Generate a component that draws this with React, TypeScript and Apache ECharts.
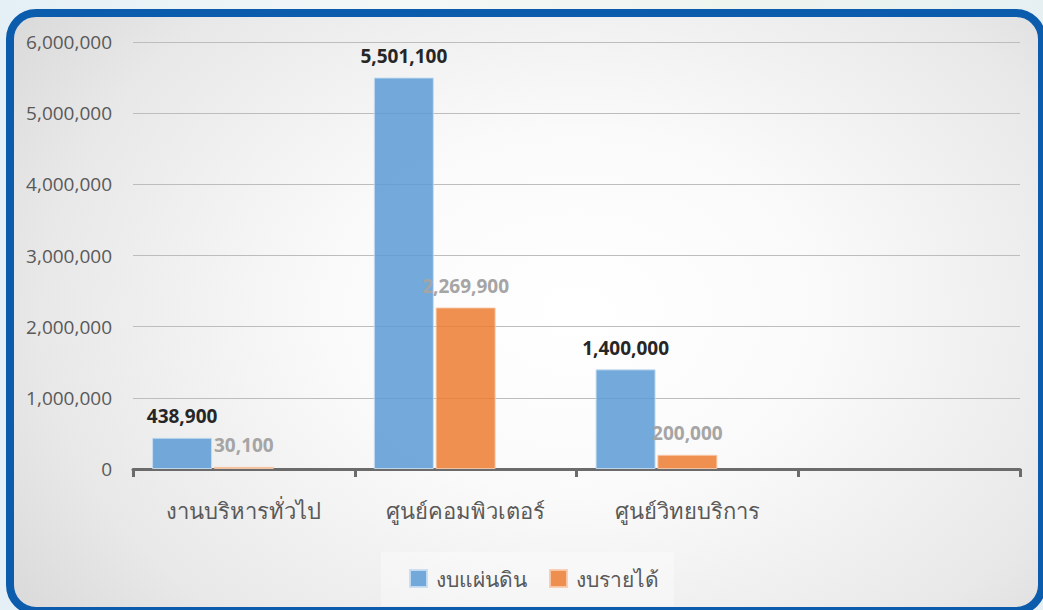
import React, { useEffect, useRef } from "react";
import * as echarts from "echarts";

const categories = ["งานบริหารทั่วไป", "ศูนย์คอมพิวเตอร์", "ศูนย์วิทยบริการ", ""];
const seriesNames = ["งบแผ่นดิน", "งบรายได้"];
const stateBudget = [438900, 5501100, 1400000, null];
const incomeBudget = [30100, 2269900, 200000, null];
const emptySeries = [null, null, null, null];
const yTicks = { min: 0, max: 6000000, interval: 1000000 };

const FONT = "'Open Sans', 'Noto Sans', 'DejaVu Sans', sans-serif";
const fmt = (v: number) => v.toLocaleString("en-US");

export default function App() {
  const ref = useRef<HTMLDivElement>(null);
  useEffect(() => {
    if (!ref.current) return;
    const chart = echarts.init(ref.current, undefined, { renderer: "svg" });
    chart.setOption({
      animation: false,
      backgroundColor: "transparent",
      textStyle: { fontFamily: FONT },
      grid: { left: 133, right: 23, top: 42, bottom: 141 },
      legend: {
        data: seriesNames,
        left: 381,
        top: 552,
        padding: [16, 15, 17, 28],
        backgroundColor: "rgba(255,255,255,0.35)",
        itemWidth: 17,
        itemHeight: 17,
        itemGap: 22,
        icon: "rect",
        textStyle: {
          fontSize: 21,
          fontWeight: 300,
          color: "#595959",
          fontFamily: FONT,
          padding: [0, 0, 0, 4],
        },
      },
      xAxis: {
        type: "category",
        data: categories,
        axisLine: { lineStyle: { color: "#6b6b6b", width: 3 } },
        axisTick: { show: true, length: 8, lineStyle: { color: "#6b6b6b", width: 3 } },
        axisLabel: { fontSize: 22, fontWeight: 300, color: "#595959", margin: 30, fontFamily: FONT },
      },
      yAxis: {
        type: "value",
        min: yTicks.min,
        max: yTicks.max,
        interval: yTicks.interval,
        axisLine: { show: false },
        axisTick: { show: false },
        axisLabel: {
          fontSize: 19,
          color: "#595959",
          margin: 21,
          fontFamily: FONT,
          formatter: (v: number) => fmt(v),
        },
        splitLine: { lineStyle: { color: "#bdbdbd", width: 1 } },
      },
      series: [
        {
          name: seriesNames[0],
          type: "bar",
          data: stateBudget,
          barWidth: 60,
          barGap: "3%",
          itemStyle: {
            color: "rgba(91,155,213,0.85)",
            borderColor: "rgba(200,222,242,0.9)",
            borderWidth: 1,
          },
          label: {
            show: true,
            position: "top",
            distance: 12,
            fontSize: 19,
            fontWeight: "bold",
            color: "#262626",
            fontFamily: FONT,
            formatter: (p: any) => fmt(p.value),
          },
        },
        {
          name: seriesNames[1],
          type: "bar",
          data: incomeBudget,
          barWidth: 60,
          barGap: "3%",
          itemStyle: {
            color: "rgba(237,125,49,0.85)",
            borderColor: "rgba(248,203,173,0.9)",
            borderWidth: 1,
          },
          label: {
            show: true,
            position: "top",
            distance: 12,
            fontSize: 19,
            fontWeight: "bold",
            color: "#a5a5a5",
            fontFamily: FONT,
            formatter: (p: any) => fmt(p.value),
          },
        },
        {
          name: "hidden",
          type: "bar",
          data: emptySeries,
          barWidth: 60,
          barGap: "3%",
          itemStyle: { color: "rgba(0,0,0,0)" },
        },
      ],
    });
    return () => chart.dispose();
  }, []);

  return (
    <div
      style={{
        position: "fixed",
        left: 0,
        top: 0,
        width: 1043,
        height: 610,
        overflow: "hidden",
        background: "linear-gradient(90deg, #e4f0f6 0%, #f4f8f6 40%, #eef4ee 70%, #e6f0f2 100%)",
      }}
    >
      <div
        style={{
          position: "absolute",
          left: 6,
          top: 9,
          width: 1040,
          height: 606,
          boxSizing: "border-box",
          border: "8px solid #0b5cad",
          borderRadius: 30,
          background:
            "radial-gradient(ellipse 85% 110% at 55% 50%, #ffffff 0%, #fafafa 28%, #e8e8e8 62%, #c8c8c8 100%)",
        }}
      />
      <div ref={ref} style={{ position: "absolute", left: 0, top: 0, width: 1043, height: 610 }} />
    </div>
  );
}
